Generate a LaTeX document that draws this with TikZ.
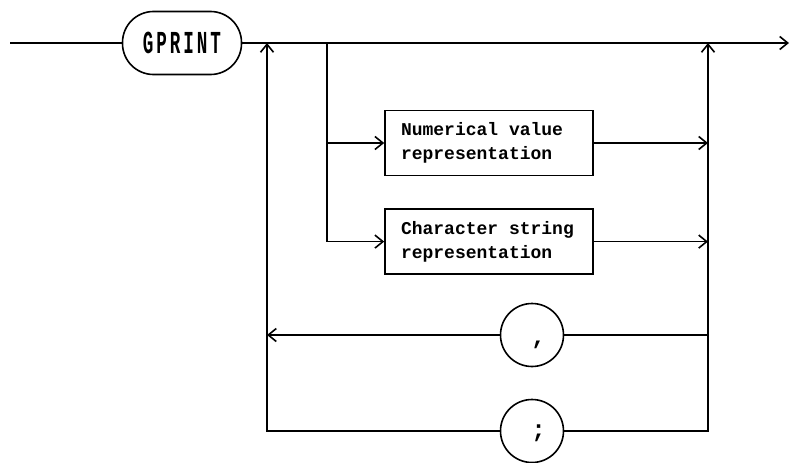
\documentclass[tikz,border=0pt]{standalone}
\usepackage{fontspec}
\setmonofont{Liberation Mono}
\usepackage{graphicx}
\usetikzlibrary{arrows.meta,positioning}

\newcommand{\gap}{\hspace*{0.6em}}
\newcommand{\offmark}[2]{\hspace*{13pt}\smash{\raisebox{#1}{#2}}}

\begin{document}
\begin{tikzpicture}[x=1pt, y=-1pt, line width=1.6pt,
        keyword/.style={draw, rectangle, rounded corners=31pt, minimum width=119pt, minimum height=63pt, font=\ttfamily\bfseries\fontsize{32}{32}\selectfont},
        item/.style={draw, rectangle, text width=176pt, inner xsep=16pt, minimum height=65pt, align=left, font=\ttfamily\bfseries\fontsize{18}{24}\selectfont},
        punct/.style={draw, circle, minimum size=63pt, inner sep=0pt, font=\ttfamily\bfseries\fontsize{24}{24}\selectfont},
        arrow/.style={-{Straight Barb[length=8pt, width=13pt, line width=1.6pt]}}]

        \useasboundingbox (0,0) rectangle (790,463);

        \node[keyword] (gprint) at (182,43) {\scalebox{0.55}[1]{G\,P\,R\,I\,N\,T}};
        \node[item] (numval) at (489,143) {Numerical\gap value\\representation};
        \node[item, below=32pt of numval] (charstr) {Character\gap string\\representation};
        \node[punct] (comma) at (532,335) {\offmark{-9pt}{,}};
        \node[punct] (semi) at (532,431) {\offmark{-6pt}{;}};

        \coordinate (start) at (10,43);
        \coordinate (finish) at (789,43);
        \coordinate (loopl) at (267,43);
        \coordinate (split) at (327,43);
        \coordinate (loopr) at (708,43);

        % main line
        \draw (start) -- (gprint.west);
        \draw[arrow] (gprint.east) -- (finish);

        % the two alternatives
        \draw[arrow] (split) |- (charstr.west);
        \draw[arrow] (split |- numval.west) -- (numval.west);
        \draw[arrow] (numval.east) -- (loopr |- numval.east);
        \draw[arrow] (charstr.east) -- (loopr |- charstr.east);

        % separators going back
        \draw (loopr |- comma.east) -- (comma.east);
        \draw[arrow] (comma.west) -- (loopl |- comma.west);
        \draw[arrow] (semi.west) -| (loopl);
        \draw[arrow] (semi.east) -| (loopr);
\end{tikzpicture}
\end{document}
